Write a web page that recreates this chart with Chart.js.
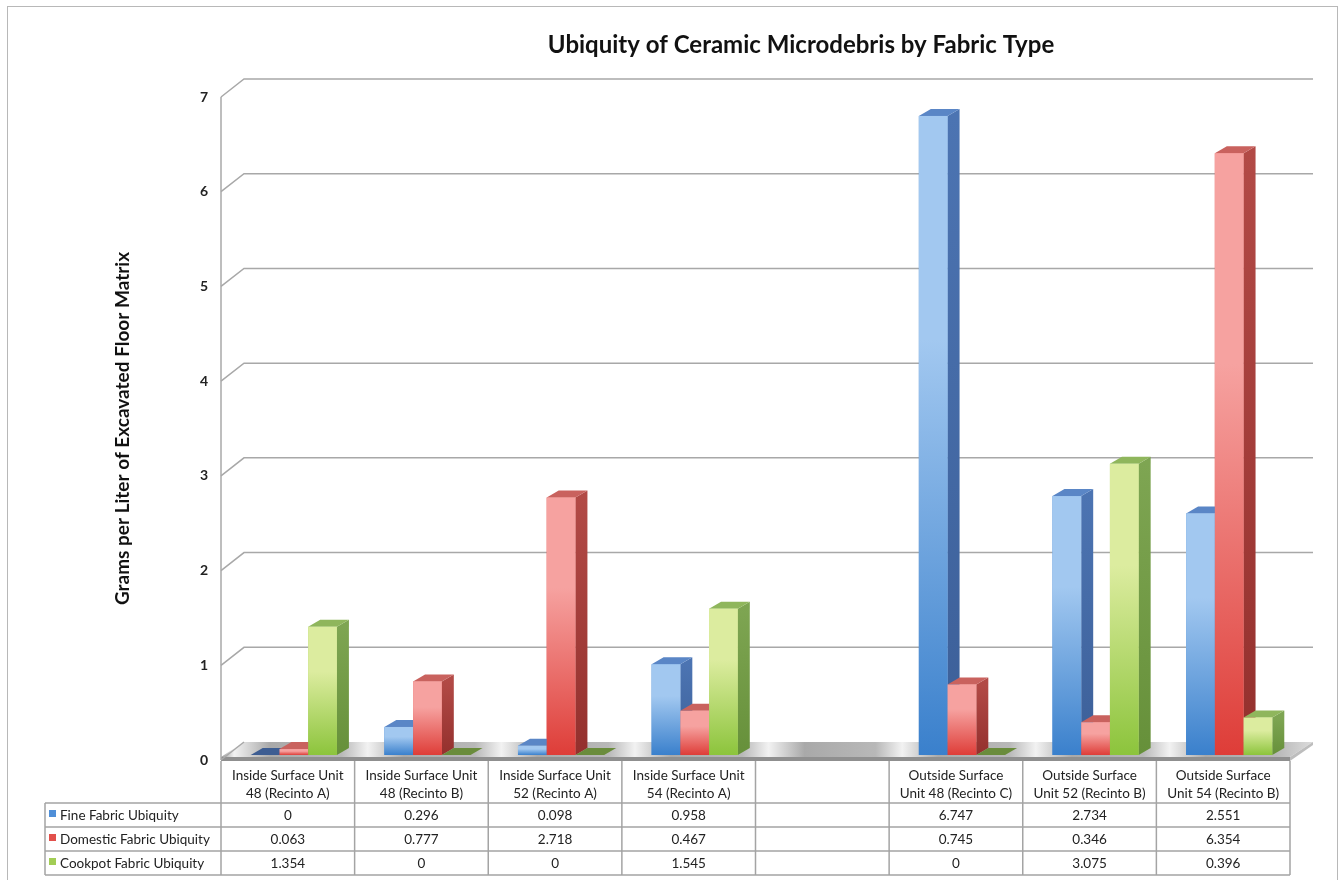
<!DOCTYPE html>
<html>
<head>
<meta charset="utf-8">
<title>Ubiquity of Ceramic Microdebris by Fabric Type</title>
<script src="https://cdn.jsdelivr.net/npm/chart.js@4.4.1/dist/chart.umd.min.js"></script>
<style>
  html, body { margin: 0; padding: 0; background: #fff; }
  #wrap { position: relative; width: 1341px; height: 880px; overflow: hidden; }
  #frame { position: absolute; left: 7px; top: 6px; width: 1331px; height: 900px; border: 1.5px solid #b8b8b8; box-sizing: border-box; }
  #chart { position: absolute; left: 0; top: 0; }
</style>
</head>
<body>
<div id="wrap">
  <div id="frame"></div>
  <canvas id="chart" width="1341" height="880"></canvas>
</div>
<script>
const categories = [
  ['Inside Surface Unit', '48 (Recinto A)'],
  ['Inside Surface Unit', '48 (Recinto B)'],
  ['Inside Surface Unit', '52 (Recinto A)'],
  ['Inside Surface Unit', '54 (Recinto A)'],
  [''],
  ['Outside Surface', 'Unit 48 (Recinto C)'],
  ['Outside Surface', 'Unit 52 (Recinto B)'],
  ['Outside Surface', 'Unit 54 (Recinto B)']
];
const seriesNames = ['Fine Fabric Ubiquity', 'Domestic Fabric Ubiquity', 'Cookpot Fabric Ubiquity'];
const fineValues = [0, 0.296, 0.098, 0.958, null, 6.747, 2.734, 2.551];
const domesticValues = [0.063, 0.777, 2.718, 0.467, null, 0.745, 0.346, 6.354];
const cookpotValues = [1.354, 0, 0, 1.545, null, 0, 3.075, 0.396];
const yTicks = [0, 1, 2, 3, 4, 5, 6, 7];

const chartTitle = 'Ubiquity of Ceramic Microdebris by Fabric Type';
const yTitle = 'Grams per Liter of Excavated Floor Matrix';

// face colours per series: front gradient (light -> dark), side, top
const palette = [
  { base: '#4a8ad4', light: '#a2c8f0', dark: '#3a80cc', side: '#4c74b2', sideDark: '#3c5f98', top: '#5a86c6', flat: '#3d5d92', key: '#4f8fd8' },
  { base: '#e2504b', light: '#f6a2a0', dark: '#de3d38', side: '#b24a46', sideDark: '#94302d', top: '#c9625e', flat: '#a8403c', key: '#e2504b' },
  { base: '#a8d060', light: '#dcec9f', dark: '#8cc43c', side: '#7ea552', sideDark: '#66903a', top: '#8fb65c', flat: '#6a8c3c', key: '#a2cd55' }
];

const FONT = 'Lato, "Open Sans", "Liberation Sans", sans-serif';
const SHIFT = { x: 6, y: -5 };    // bars stand a little behind the front edge
const DEPTH = { x: 12, y: -7 };   // bar thickness
const WALL = { x: 23, y: -18 };   // back wall offset

function poly(ctx, pts, fill) {
  ctx.beginPath();
  ctx.moveTo(pts[0][0], pts[0][1]);
  for (let i = 1; i < pts.length; i++) ctx.lineTo(pts[i][0], pts[i][1]);
  ctx.closePath();
  ctx.fillStyle = fill;
  ctx.fill();
}

const scene3d = {
  id: 'scene3d',
  beforeDatasetsDraw(chart) {
    const { ctx, chartArea: a, scales: { y } } = chart;
    const n = categories.length;
    const step = (a.right - a.left) / n;
    const span = a.right + WALL.x - a.left;

    // floor slab: grey with a bright streak after every column edge
    const fy = a.bottom;
    const g = ctx.createLinearGradient(a.left, 0, a.right + WALL.x, 0);
    g.addColorStop(0, '#9a9a9a');
    for (let i = 0; i < n; i++) {
      const s = (i * step) / span;
      g.addColorStop(Math.min(s + 0.012, 1), '#f2f2f2');
      g.addColorStop(Math.min(s + 0.045, 1), '#a9a9a9');
      g.addColorStop(Math.min(s + 0.11, 1), '#b8b8b8');
    }
    g.addColorStop(1, '#dcdcdc');
    poly(ctx, [[a.left, fy - 3], [a.right, fy - 3], [a.right + WALL.x, fy + WALL.y], [a.left + WALL.x, fy + WALL.y]], g);
    poly(ctx, [[a.left, fy - 3], [a.right, fy - 3], [a.right, fy + 1], [a.left, fy + 1]], '#8f8f8f');
    poly(ctx, [[a.right, fy - 3], [a.right + WALL.x, fy + WALL.y], [a.right + WALL.x, fy + WALL.y + 3], [a.right, fy + 1]], '#bdbdbd');

    // back wall gridlines with the bend at the left wall
    ctx.save();
    ctx.strokeStyle = '#a8a8a8';
    ctx.lineWidth = 1.5;
    yTicks.forEach(v => {
      const py = y.getPixelForValue(v);
      ctx.beginPath();
      ctx.moveTo(a.left, py);
      ctx.lineTo(a.left + WALL.x, py + WALL.y);
      if (v !== 0) ctx.lineTo(a.right + WALL.x, py + WALL.y);
      ctx.stroke();
    });
    ctx.beginPath();
    ctx.moveTo(a.left, y.getPixelForValue(yTicks[yTicks.length - 1]));
    ctx.lineTo(a.left, a.bottom);
    ctx.stroke();
    ctx.restore();

    ctx.save();
    ctx.translate(SHIFT.x, SHIFT.y);
  },
  afterDatasetsDraw(chart) {
    const { ctx } = chart;
    const metas = chart.data.datasets.map((d, i) => chart.getDatasetMeta(i));
    for (let c = 0; c < categories.length; c++) {
      metas.forEach((meta, s) => {
        const bar = meta.data[c];
        const v = chart.data.datasets[s].data[c];
        if (!bar || v === null || v === undefined) return;
        const col = palette[s];
        const x0 = bar.x - bar.width / 2, x1 = bar.x + bar.width / 2;
        const top = Math.min(bar.y, bar.base), base = bar.base;
        const dx = DEPTH.x, dy = DEPTH.y;
        if (top < base - 0.5) {
          const sg = ctx.createLinearGradient(0, top, 0, base);
          sg.addColorStop(0, col.side);
          sg.addColorStop(1, col.sideDark);
          poly(ctx, [[x1, top], [x1 + dx, top + dy], [x1 + dx, base + dy], [x1, base]], sg);
          poly(ctx, [[x0, top], [x1, top], [x1 + dx, top + dy], [x0 + dx, top + dy]], col.top);
          const fg = ctx.createLinearGradient(0, top, 0, base);
          fg.addColorStop(0, col.light);
          fg.addColorStop(0.35, col.light);
          fg.addColorStop(1, col.dark);
          ctx.fillStyle = fg;
          ctx.fillRect(x0, top, x1 - x0, base - top);
        } else {
          poly(ctx, [[x0, base], [x1, base], [x1 + dx, base + dy], [x0 + dx, base + dy]], col.flat);
        }
      });
    }
    ctx.restore();
  },
  afterDraw(chart) {
    const { ctx, chartArea: a, scales: { x } } = chart;
    const n = categories.length;
    const half = (a.right - a.left) / n / 2;
    const rows = [fineValues, domesticValues, cookpotValues];
    const legendLeft = 45;
    const headTop = a.bottom + 1;
    const rowTops = [803, 827, 851];
    const tableBottom = 875;

    ctx.save();
    // title
    ctx.fillStyle = '#111';
    ctx.font = 'bold 24px ' + FONT;
    ctx.textAlign = 'center';
    ctx.textBaseline = 'middle';
    ctx.fillText(chartTitle, 801, 45);

    // data table grid
    ctx.strokeStyle = '#a4a4a4';
    ctx.lineWidth = 1.5;
    ctx.beginPath();
    rowTops.concat([tableBottom]).forEach(ry => { ctx.moveTo(legendLeft, ry); ctx.lineTo(a.right, ry); });
    ctx.moveTo(legendLeft, rowTops[0]); ctx.lineTo(legendLeft, tableBottom);
    for (let i = 0; i <= n; i++) {
      const px = i < n ? x.getPixelForValue(i) - half : x.getPixelForValue(n - 1) + half;
      ctx.moveTo(px, headTop); ctx.lineTo(px, tableBottom);
    }
    ctx.stroke();

    // category headers
    ctx.fillStyle = '#222';
    ctx.font = '13.5px ' + FONT;
    ctx.textAlign = 'center';
    categories.forEach((lines, i) => {
      const px = x.getPixelForValue(i);
      lines.forEach((t, k) => ctx.fillText(t, px, 776 + k * 18));
    });

    // series rows
    rows.forEach((vals, r) => {
      const cy = (rowTops[r] + (rowTops[r + 1] || tableBottom)) / 2 + 1;
      ctx.fillStyle = palette[r].key;
      ctx.fillRect(legendLeft + 4, cy - 6, 7, 7);
      ctx.fillStyle = '#222';
      ctx.textAlign = 'left';
      ctx.fillText(seriesNames[r], legendLeft + 15, cy);
      ctx.textAlign = 'center';
      vals.forEach((v, i) => {
        if (v === null) return;
        ctx.fillText(String(v), x.getPixelForValue(i), cy);
      });
    });
    ctx.restore();
  }
};

new Chart(document.getElementById('chart'), {
  type: 'bar',
  data: {
    labels: categories,
    datasets: [
      { label: seriesNames[0], data: fineValues, backgroundColor: palette[0].base },
      { label: seriesNames[1], data: domesticValues, backgroundColor: palette[1].base },
      { label: seriesNames[2], data: cookpotValues, backgroundColor: palette[2].base }
    ]
  },
  options: {
    responsive: false,
    animation: false,
    devicePixelRatio: 1,
    layout: { padding: { top: 97, bottom: 120, left: 90, right: 51 } },
    datasets: { bar: { categoryPercentage: 0.645, barPercentage: 1.0, borderWidth: 0 } },
    plugins: {
      legend: { display: false },
      title: { display: false },
      tooltip: { enabled: false }
    },
    scales: {
      x: { display: false },
      y: {
        min: 0,
        max: 7,
        afterFit(scale) { scale.width = 131; },
        afterBuildTicks(scale) { scale.ticks = yTicks.map(v => ({ value: v })); },
        grid: { display: false, drawTicks: false },
        border: { display: false },
        ticks: { padding: 13, color: '#222', font: { family: FONT, size: 14, weight: 'bold' } },
        title: {
          display: true,
          text: yTitle,
          color: '#111',
          padding: { top: 21, bottom: 0 },
          font: { family: FONT, size: 19, weight: 'bold' }
        }
      }
    }
  },
  plugins: [scene3d]
});
</script>
</body>
</html>
